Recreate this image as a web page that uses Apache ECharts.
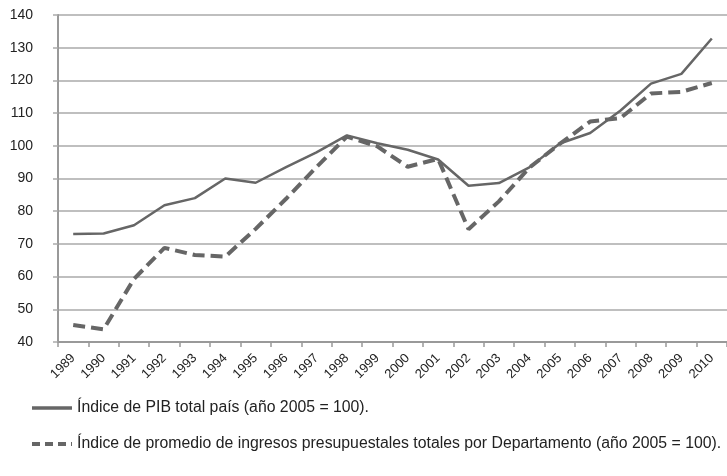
<!DOCTYPE html>
<html>
<head>
<meta charset="utf-8">
<script src="https://cdn.jsdelivr.net/npm/echarts@6/dist/echarts.min.js"></script>
<style>
  html, body { margin: 0; padding: 0; background: #fff; }
  #chart { width: 727px; height: 476px; }
</style>
</head>
<body>
<div id="chart"></div>
<script>
// años
var years = ['1989', '1990', '1991', '1992', '1993', '1994', '1995', '1996', '1997', '1998', '1999',
  '2000', '2001', '2002', '2003', '2004', '2005', '2006', '2007', '2008', '2009', '2010'];
// Índice de PIB total país
var pib = [73, 73.2, 75.7, 81.8, 84, 90, 88.7, 93.5, 98, 103.2, 100.8,
  98.8, 95.8, 87.8, 88.6, 93.4, 100.7, 103.9, 110.8, 119, 122, 132.8];
// Índice de ingresos presupuestales por Departamento
var ingresos = [45.2, 43.9, 59.3, 68.8, 66.6, 66.1, 74.6, 83.8, 93.5, 102.8, 99.8,
  93.6, 96, 74.5, 83, 93.3, 100.6, 107.4, 108.5, 116, 116.5, 119.2];

var nombrePib = 'Índice de PIB total país (año 2005 = 100).';
var nombreIng = 'Índice de promedio de ingresos presupuestales totales por Departamento (año 2005 = 100).';

var option = {
  backgroundColor: '#FFFFFF',
  animation: false,
  textStyle: { fontFamily: 'Liberation Sans, Arial, sans-serif' },
  grid: { left: 58, right: -4, top: 15, bottom: 134 },
  legend: {
    orient: 'vertical',
    left: 25,
    top: 395,
    itemGap: 20,
    itemWidth: 40,
    itemHeight: 14,
    textStyle: { fontSize: 15.8, color: '#222' },
    itemStyle: { opacity: 0 },
    data: [
      { name: nombrePib, lineStyle: { width: 3.5, color: '#666' } },
      { name: nombreIng, lineStyle: { width: 4, type: [8, 5], color: '#666' } }
    ]
  },
  xAxis: {
    type: 'category',
    data: years,
    boundaryGap: true,
    axisLine: { lineStyle: { color: '#999', width: 2 } },
    axisTick: { show: true, length: 5, lineStyle: { color: '#999', width: 1.5 } },
    axisLabel: { rotate: 45, fontSize: 13, color: '#222', margin: 14, interval: 0 }
  },
  yAxis: {
    type: 'value',
    min: 40,
    max: 140,
    interval: 10,
    axisLine: { show: true, lineStyle: { color: '#999', width: 2 } },
    axisTick: { show: true, length: 5, lineStyle: { color: '#aaa', width: 1.5 } },
    axisLabel: { fontSize: 14, color: '#222', margin: 25 },
    splitLine: { lineStyle: { color: '#aaa', width: 1.5 } }
  },
  series: [
    {
      name: nombrePib,
      type: 'line',
      data: pib,
      symbol: 'none',
      lineStyle: { color: '#666', width: 2.5 },
      itemStyle: { color: '#666' }
    },
    {
      name: nombreIng,
      type: 'line',
      data: ingresos,
      symbol: 'none',
      lineStyle: { color: '#666', width: 4, type: [12, 6] },
      itemStyle: { color: '#666' }
    }
  ]
};

var myChart = echarts.init(document.getElementById('chart'));
myChart.setOption(option);
</script>
</body>
</html>
